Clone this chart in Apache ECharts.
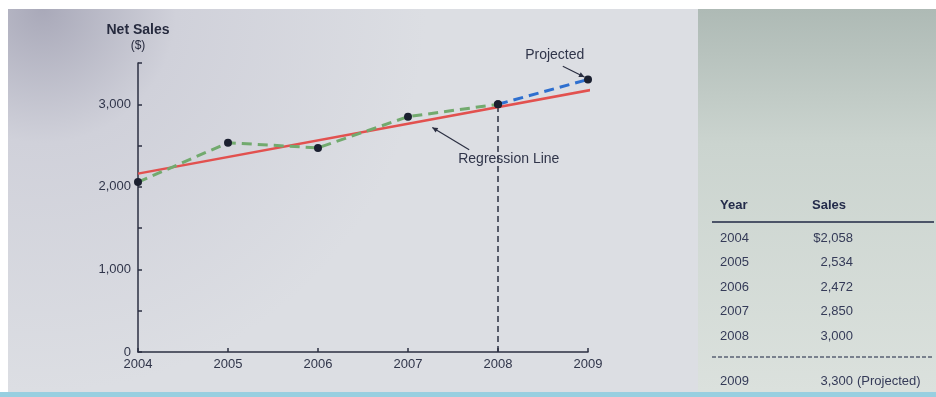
<!DOCTYPE html>
<html>
<head>
<meta charset="utf-8">
<script src="https://cdn.jsdelivr.net/npm/echarts@6/dist/echarts.min.js"></script>
<style>
  html, body { margin: 0; padding: 0; background: #ffffff; }
  #chart { width: 936px; height: 397px; }
</style>
</head>
<body>
<div id="chart"></div>
<script>
// Net sales by year, actuals plus one projected year
const years = [2004, 2005, 2006, 2007, 2008];
const sales = [2058, 2534, 2472, 2850, 3000];
const projectedYear = 2009;
const projectedSales = 3300;

// Fitted trend line endpoints (year, $)
const regressionYears = [2004, 2009.09];
const regressionValues = [2160, 3185];

// Axis ticks
const yTickValues = [0, 1000, 2000, 3000];
const xTickYears = [2004, 2005, 2006, 2007, 2008, 2009];

const FONT = '"Liberation Sans Narrow", "Liberation Sans", Arial, sans-serif';
const INK = '#30354a';

const actualPts = years.map((y, i) => [y, sales[i]]);
const lastActual = actualPts[actualPts.length - 1];
const projectedPts = [lastActual, [projectedYear, projectedSales]];
const regressionPts = regressionYears.map((y, i) => [y, regressionValues[i]]);

const chart = echarts.init(document.getElementById('chart'), null, { renderer: 'canvas' });

const option = {
  animation: false,
  backgroundColor: '#ffffff',
  grid: { left: 138, right: 348, top: 63, bottom: 45 },
  xAxis: {
    type: 'value',
    min: 2004, max: 2009, interval: 1,
    axisLine: { lineStyle: { color: '#2b2f42', width: 1.5 } },
    axisTick: { inside: true, length: 4, lineStyle: { color: '#2b2f42', width: 1.5 } },
    splitLine: { show: false },
    axisLabel: {
      color: INK, fontFamily: FONT, fontSize: 13, margin: 6,
      formatter: v => (xTickYears.indexOf(v) >= 0 ? String(v) : '')
    }
  },
  yAxis: {
    type: 'value',
    min: 0, max: 3500, interval: 500,
    name: '{b|Net Sales}\n{p|($)}',
    nameLocation: 'end',
    nameGap: 10,
    nameTextStyle: {
      align: 'center',
      rich: {
        b: { fontFamily: FONT, fontSize: 14, fontWeight: 'bold', color: '#262a3e', lineHeight: 16 },
        p: { fontFamily: FONT, fontSize: 12, color: '#262a3e', lineHeight: 15 }
      }
    },
    axisLine: { show: true, lineStyle: { color: '#2b2f42', width: 1.5 } },
    axisTick: { show: true, inside: true, length: 4, lineStyle: { color: '#2b2f42', width: 1.5 } },
    splitLine: { show: false },
    axisLabel: {
      color: INK, fontFamily: FONT, fontSize: 13, margin: 7,
      formatter: v => (yTickValues.indexOf(v) >= 0 ? v.toLocaleString('en-US') : '')
    }
  },
  series: [
    {
      name: 'Regression Line',
      type: 'line',
      data: regressionPts,
      clip: false,
      symbol: 'none',
      lineStyle: { color: '#e2514f', width: 2.5 },
      z: 3
    },
    {
      name: 'Net Sales',
      type: 'line',
      data: actualPts,
      symbol: 'circle',
      symbolSize: 8,
      itemStyle: { color: '#1b2030' },
      lineStyle: { color: '#72aa6e', width: 3, type: [10, 6] },
      z: 4
    },
    {
      name: 'Projected',
      type: 'line',
      data: projectedPts,
      clip: false,
      symbol: 'circle',
      symbolSize: 8,
      itemStyle: { color: '#1b2030' },
      lineStyle: { color: '#2e6fcf', width: 3, type: [10, 6] },
      z: 4
    },
    {
      name: 'Cutoff',
      type: 'line',
      data: [[lastActual[0], 0], lastActual],
      symbol: 'none',
      lineStyle: { color: '#2b2f42', width: 1.5, type: [6, 4] },
      z: 2
    }
  ]
};

chart.setOption(option);

// Panels behind the chart and the data table beside it
const px = (x, y) => chart.convertToPixel({ gridIndex: 0 }, [x, y]);

const graphics = [];
graphics.push({
  type: 'rect', z: -100, silent: true,
  shape: { x: 8, y: 9, width: 690, height: 383 },
  style: {
    fill: new echarts.graphic.RadialGradient(0.05, 0.0, 1.0, [
      { offset: 0, color: '#a9a9b9' },
      { offset: 0.35, color: '#d0d1da' },
      { offset: 1, color: '#dcdee3' }
    ])
  }
});
graphics.push({
  type: 'rect', z: -100, silent: true,
  shape: { x: 698, y: 9, width: 238, height: 383 },
  style: {
    fill: new echarts.graphic.LinearGradient(0, 0, 0, 1, [
      { offset: 0, color: '#aebab5' },
      { offset: 0.35, color: '#cbd4cf' },
      { offset: 1, color: '#dbe1dd' }
    ])
  }
});
graphics.push({
  type: 'rect', z: -100, silent: true,
  shape: { x: 0, y: 392, width: 936, height: 5 },
  style: { fill: '#98cfe0' }
});

// Annotation: "Projected"
const projLabel = px(2008.63, 3600);
graphics.push({
  type: 'text', z: 10, silent: true,
  style: { text: 'Projected', x: projLabel[0], y: projLabel[1], align: 'center', verticalAlign: 'middle',
           font: '14px ' + FONT, fill: INK }
});
const pa0 = px(2008.72, 3460), pa1 = px(2008.96, 3330);
graphics.push({
  type: 'line', z: 10, silent: true,
  shape: { x1: pa0[0], y1: pa0[1], x2: pa1[0], y2: pa1[1] },
  style: { stroke: '#2b2f42', lineWidth: 1.2 }
});

// Annotation: "Regression Line"
const regLabel = px(2008.12, 2340);
graphics.push({
  type: 'text', z: 10, silent: true,
  style: { text: 'Regression Line', x: regLabel[0], y: regLabel[1], align: 'center', verticalAlign: 'middle',
           font: '14px ' + FONT, fill: INK }
});
const ra0 = px(2007.68, 2450), ra1 = px(2007.27, 2720);
graphics.push({
  type: 'line', z: 10, silent: true,
  shape: { x1: ra0[0], y1: ra0[1], x2: ra1[0], y2: ra1[1] },
  style: { stroke: '#2b2f42', lineWidth: 1.2 }
});

function arrowHead(from, to, size) {
  const ang = Math.atan2(to[1] - from[1], to[0] - from[0]);
  const a1 = ang + Math.PI - 0.45, a2 = ang + Math.PI + 0.45;
  return {
    type: 'polygon', z: 10, silent: true,
    shape: { points: [to, [to[0] + size * Math.cos(a1), to[1] + size * Math.sin(a1)],
                          [to[0] + size * Math.cos(a2), to[1] + size * Math.sin(a2)]] },
    style: { fill: '#2b2f42' }
  };
}
graphics.push(arrowHead(pa0, pa1, 6));
graphics.push(arrowHead(ra0, ra1, 6));

// Data table
const colYear = 720, colSalesRight = 853;
const headerY = 205;
const rowStartY = 238, rowStep = 24.5;
const tableFont = '13px ' + FONT;
const tableInk = '#353b58';

graphics.push({ type: 'text', z: 10, silent: true,
  style: { text: 'Year', x: colYear, y: headerY, verticalAlign: 'middle', font: 'bold 13px ' + FONT, fill: '#232b4a' } });
graphics.push({ type: 'text', z: 10, silent: true,
  style: { text: 'Sales', x: 829, y: headerY, align: 'center', verticalAlign: 'middle', font: 'bold 13px ' + FONT, fill: '#232b4a' } });
graphics.push({ type: 'line', z: 10, silent: true,
  shape: { x1: 712, y1: 222, x2: 934, y2: 222 }, style: { stroke: '#4c5468', lineWidth: 2 } });

years.forEach((yr, i) => {
  const y = rowStartY + i * rowStep;
  const val = (i === 0 ? '$' : '') + sales[i].toLocaleString('en-US');
  graphics.push({ type: 'text', z: 10, silent: true,
    style: { text: String(yr), x: colYear, y: y, verticalAlign: 'middle', font: tableFont, fill: tableInk } });
  graphics.push({ type: 'text', z: 10, silent: true,
    style: { text: val, x: colSalesRight, y: y, align: 'right', verticalAlign: 'middle', font: tableFont, fill: tableInk } });
});

graphics.push({ type: 'line', z: 10, silent: true,
  shape: { x1: 712, y1: 357, x2: 934, y2: 357 },
  style: { stroke: '#5a6274', lineWidth: 1.5, lineDash: [4, 2] } });

graphics.push({ type: 'text', z: 10, silent: true,
  style: { text: String(projectedYear), x: colYear, y: 381, verticalAlign: 'middle', font: tableFont, fill: tableInk } });
graphics.push({ type: 'text', z: 10, silent: true,
  style: { text: projectedSales.toLocaleString('en-US'), x: colSalesRight, y: 381, align: 'right', verticalAlign: 'middle', font: tableFont, fill: tableInk } });
graphics.push({ type: 'text', z: 10, silent: true,
  style: { text: '(Projected)', x: colSalesRight + 4, y: 381, verticalAlign: 'middle', font: tableFont, fill: tableInk } });

chart.setOption({ graphic: { elements: graphics } });
</script>
</body>
</html>
